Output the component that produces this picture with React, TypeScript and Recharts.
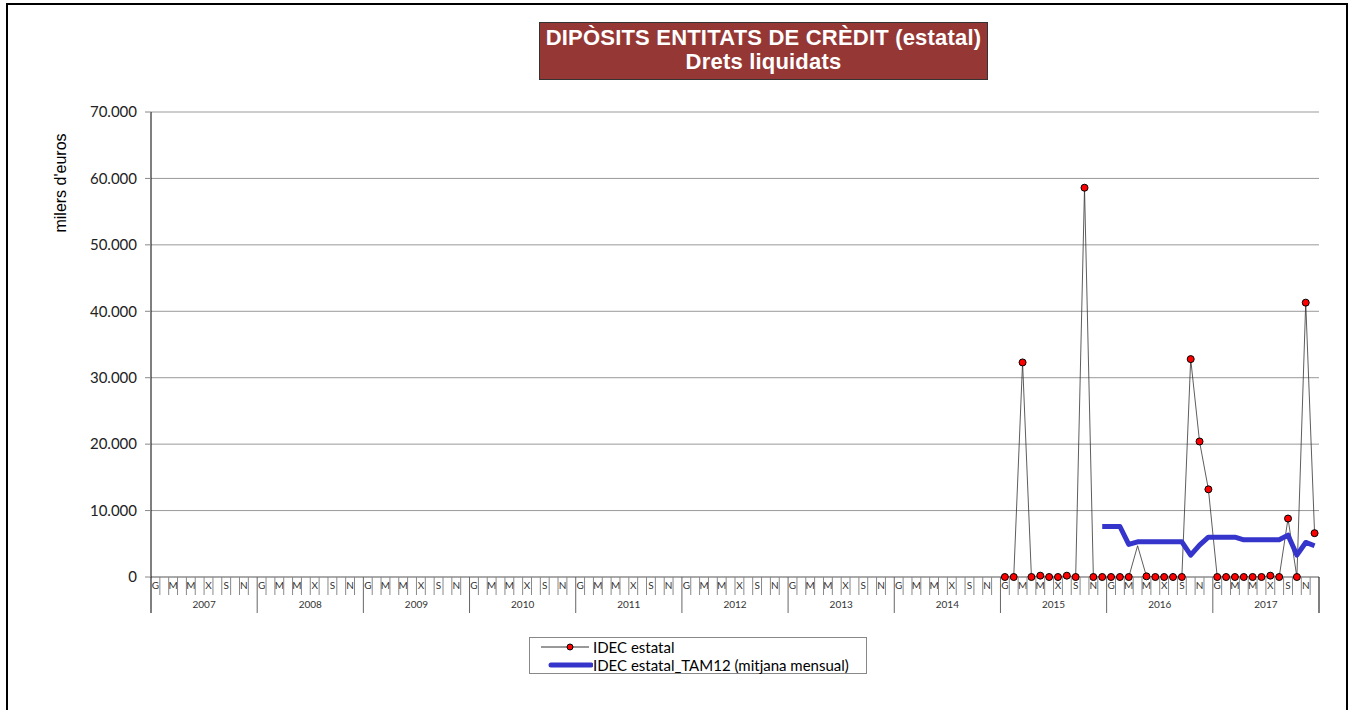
import React from 'react'
import { LineChart, Line, XAxis, YAxis, CartesianGrid } from 'recharts'

// months shown on the axis (Catalan initials) and years covered
const years = [2007, 2008, 2009, 2010, 2011, 2012, 2013, 2014, 2015, 2016, 2017]
const monthLetters = ['G', 'F', 'M', 'A', 'M', 'J', 'X', 'A', 'S', 'O', 'N', 'D']
const yTicks = [0, 10000, 20000, 30000, 40000, 50000, 60000, 70000]

// IDEC estatal, monthly values (milers d'euros)
const idec2015 = [0, 0, 32300, 0, 200, 0, 0, 200, 0, 58600, 0, 0]
const idec2016 = [0, 0, 0, 4700, 100, 0, 0, 0, 0, 32800, 20400, 13200]
const idec2017 = [0, 0, 0, 0, 0, 0, 200, 0, 8800, 0, 41300, 6600]
// points drawn without a marker in the original
const hiddenMarkers = ['2016-4']

// TAM12 (mitjana mensual), from Dec 2015 onward
const tam2015 = [null, null, null, null, null, null, null, null, null, null, null, 7600]
const tam2016 = [7600, 7600, 4900, 5300, 5300, 5300, 5300, 5300, 5300, 3300, 4800, 6000]
const tam2017 = [6000, 6000, 6000, 5600, 5600, 5600, 5600, 5600, 6300, 3300, 5200, 4700]

const idecByYear = { 2015: idec2015, 2016: idec2016, 2017: idec2017 }
const tamByYear = { 2015: tam2015, 2016: tam2016, 2017: tam2017 }

const data = []
years.forEach(y => {
  monthLetters.forEach((_, m) => {
    data.push({
      key: `${y}-${m + 1}`,
      idec: idecByYear[y] ? idecByYear[y][m] : null,
      tam: tamByYear[y] ? tamByYear[y][m] : null,
    })
  })
})

const W = 1354
const H = 710
const PLOT_W = 1168
const BAND = PLOT_W / data.length

const fmt = (v: number) => v.toLocaleString('de-DE')

function MonthTick(props: any) {
  const { x, y, payload } = props
  const [yr, mo] = String(payload.value).split('-').map(Number)
  const left = x - BAND / 2
  const isFirst = yr === years[0] && mo === 1
  const isLast = yr === years[years.length - 1] && mo === 12
  return (
    <g>
      {mo === 1 ? (
        <line x1={left} x2={left} y1={y} y2={y + 36} stroke={isFirst ? '#000' : '#666'} strokeWidth={1} />
      ) : (
        <line x1={left} x2={left} y1={y} y2={y + 18} stroke="#888" strokeWidth={1} />
      )}
      {isLast && <line x1={x + BAND / 2} x2={x + BAND / 2} y1={y} y2={y + 36} stroke="#000" strokeWidth={1} />}
      {(mo - 1) % 2 === 0 && (
        <text x={x} y={y + 12} textAnchor="middle" fontSize={10} fontFamily="Lato" fill="#333">
          {monthLetters[mo - 1]}
        </text>
      )}
      {mo === 7 && (
        <text x={left} y={y + 31} textAnchor="middle" fontSize={10} fontFamily="Lato" fill="#333">
          {yr}
        </text>
      )}
    </g>
  )
}

function IdecDot(props: any) {
  const { cx, cy, payload } = props
  if (cx == null || cy == null || payload.idec == null || hiddenMarkers.includes(payload.key)) return <g />
  return <circle cx={cx} cy={cy} r={3.5} fill="#ff0000" stroke="#000" strokeWidth={1} />
}

function YTitle(props: any) {
  const vb = props.viewBox || { x: 91, y: 112 }
  const cx = vb.x - 31
  const cy = vb.y + 71
  return (
    <text x={cx} y={cy} transform={`rotate(-90 ${cx} ${cy})`} textAnchor="middle" dominantBaseline="central"
      fontSize={16} fontFamily="Liberation Sans, Arial" fill="#000">
      milers d'euros
    </text>
  )
}

export default function App() {
  return (
    <div style={{ position: 'absolute', left: 0, top: 0, width: W, height: H, overflow: 'hidden', background: '#fff' }}>
      <div style={{ position: 'absolute', left: 6, top: 3, width: 1342, height: 760, border: '2px solid #000', boxSizing: 'border-box' }} />

      <div style={{
        position: 'absolute', left: 539, top: 22, width: 449, height: 58, boxSizing: 'border-box',
        background: '#953735', border: '1px solid #333', color: '#fff', textAlign: 'center',
        fontFamily: 'Liberation Sans, Arial', fontWeight: 'bold', fontSize: 22, lineHeight: '24px', paddingTop: 3,
        letterSpacing: 0.2,
      }}>
        <div>DIPÒSITS ENTITATS DE CRÈDIT (estatal)</div>
        <div>Drets liquidats</div>
      </div>

      <div style={{ position: 'absolute', left: 0, top: 0 }}>
        <LineChart width={W} height={H} data={data} margin={{ top: 112, right: 35, bottom: 93, left: 91 }}>
          <CartesianGrid horizontal vertical={false} stroke="#999" />
          <XAxis dataKey="key" scale="band" interval={0} height={40} tickSize={0} tickMargin={0} tickLine={false}
            axisLine={{ stroke: '#888' }} tick={<MonthTick />} />
          <YAxis domain={[0, 70000]} ticks={yTicks} width={60} tickFormatter={fmt} interval={0}
            tickSize={6} tickMargin={8} tickLine={{ stroke: '#888' }} axisLine={{ stroke: '#000' }}
            tick={{ fontSize: 15, fontFamily: 'Lato', fill: '#222' }} label={<YTitle />} />
          <YAxis yAxisId="r" orientation="right" width={0} domain={[0, 1]} tick={false} tickLine={false}
            axisLine={{ stroke: '#000' }} />
          <Line dataKey="idec" type="linear" stroke="#333" strokeWidth={0.8} isAnimationActive={false}
            dot={<IdecDot />} activeDot={false} />
          <Line dataKey="tam" type="linear" stroke="#3535cc" strokeWidth={5} dot={false} activeDot={false}
            strokeLinejoin="round" isAnimationActive={false} />
        </LineChart>
      </div>

      <div style={{
        position: 'absolute', left: 529, top: 637, width: 338, height: 37, boxSizing: 'border-box',
        border: '1px solid #888', background: '#fff', fontFamily: 'Lato', fontSize: 15, color: '#000',
      }}>
        <div style={{ position: 'absolute', left: 10, top: 0, height: 17, display: 'flex', alignItems: 'center' }}>
          <svg width={52} height={10}>
            <line x1={1} x2={49} y1={5} y2={5} stroke="#333" strokeWidth={1} />
            <circle cx={30} cy={5} r={3} fill="#ff0000" stroke="#000" strokeWidth={1} />
          </svg>
          <span style={{ marginLeft: 1 }}>IDEC estatal</span>
        </div>
        <div style={{ position: 'absolute', left: 18, top: 18, height: 17, display: 'flex', alignItems: 'center' }}>
          <svg width={45} height={10}>
            <line x1={3} x2={43} y1={5} y2={5} stroke="#3535cc" strokeWidth={5} strokeLinecap="round" />
          </svg>
          <span>IDEC estatal_TAM12 (mitjana mensual)</span>
        </div>
      </div>
    </div>
  )
}
